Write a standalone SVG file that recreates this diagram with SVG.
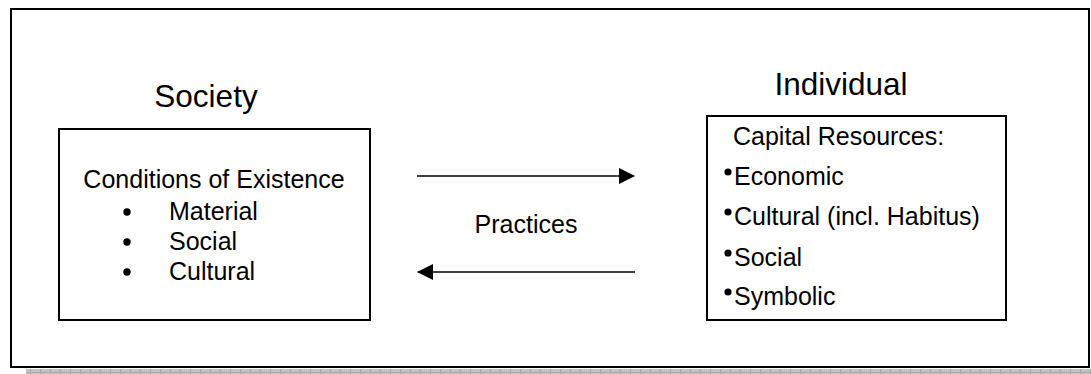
<svg xmlns="http://www.w3.org/2000/svg" width="1091" height="374" viewBox="0 0 1091 374">
<defs>
<style>
.box{fill:#fff;stroke:#000;stroke-width:2}
.t{font-family:"Liberation Sans",Arial,sans-serif;fill:#000}
.h{font-size:31.5px}
.b{font-size:25px}
.conn{stroke:#000;stroke-width:1.6;fill:none}
</style>
<marker id="ah" viewBox="0 0 16 16" refX="15" refY="8" markerWidth="16" markerHeight="16" markerUnits="userSpaceOnUse" orient="auto">
<path d="M0,0 L16,8 L0,16 Z" fill="#000"/>
</marker>
<pattern id="hatch" width="10" height="6" patternUnits="userSpaceOnUse">
<rect width="10" height="6" fill="#c4c4c4"/>
<path d="M0,0.5 H10 M0.5,0 V6" stroke="#a8a8a8" stroke-width="1"/>
</pattern>
</defs>
<rect x="0" y="0" width="1091" height="374" fill="#fff"/>
<rect x="26" y="369" width="1065" height="5" fill="url(#hatch)"/>
<g id="frame">
<rect class="box" x="11" y="9" width="1078" height="358"/>
</g>
<g id="society">
<text class="t h" x="206" y="107" text-anchor="middle">Society</text>
<rect class="box" x="59" y="129" width="311" height="191"/>
<text class="t b" x="214" y="188" text-anchor="middle">Conditions of Existence</text>
<circle cx="127" cy="212" r="3.7"/>
<circle cx="127" cy="242" r="3.7"/>
<circle cx="127" cy="272" r="3.7"/>
<text class="t b" x="169" y="220">Material</text>
<text class="t b" x="169" y="250">Social</text>
<text class="t b" x="169" y="280">Cultural</text>
</g>
<g id="individual">
<text class="t h" x="841" y="95" text-anchor="middle">Individual</text>
<rect class="box" x="707" y="116" width="299" height="204"/>
<text class="t b" x="733" y="145">Capital Resources:</text>
<circle cx="728" cy="172" r="3.6"/>
<circle cx="728" cy="212" r="3.6"/>
<circle cx="728" cy="253" r="3.6"/>
<circle cx="728" cy="292" r="3.6"/>
<text class="t b" x="734" y="185">Economic</text>
<text class="t b" x="734" y="225">Cultural (incl. Habitus)</text>
<text class="t b" x="734" y="266">Social</text>
<text class="t b" x="734" y="305">Symbolic</text>
</g>
<g id="connectors">
<line class="conn" x1="417" y1="176" x2="634" y2="176" marker-end="url(#ah)"/>
<line class="conn" x1="635" y1="272" x2="418" y2="272" marker-end="url(#ah)"/>
</g>
<g id="label">
<text class="t b" x="526" y="233" text-anchor="middle">Practices</text>
</g>
</svg>
